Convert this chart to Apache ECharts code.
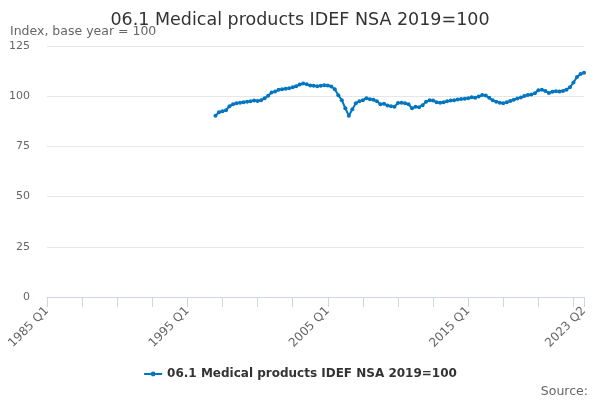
<!DOCTYPE html>
<html>
<head>
<meta charset="utf-8">
<script src="https://cdn.jsdelivr.net/npm/echarts@6/dist/echarts.min.js"></script>
<style>
html,body{margin:0;padding:0;background:#fff;}
#chart{width:600px;height:400px;}
</style>
</head>
<body>
<div id="chart"></div>
<script>
// Quarter categories 1985 Q1 .. 2023 Q2
var categories = [];
for (var y = 1985; y <= 2023; y++) {
  for (var q = 1; q <= 4; q++) {
    if (y === 2023 && q > 2) break;
    categories.push(y + ' Q' + q);
  }
}
// Values from 1997 Q1 to 2023 Q2 (earlier quarters have no data)
var seriesStart = '1997 Q1';
var seriesValues = [
  90.3, 92.0, 92.5, 93.0, 95.0, 96.0, 96.5, 96.8, 97.0, 97.2,
  97.5, 97.8, 97.6, 98.0, 99.0, 100.2, 101.8, 102.3, 103.2, 103.5,
  103.7, 104.0, 104.5, 105.0, 105.8, 106.3, 106.0, 105.3, 105.2, 105.0,
  105.2, 105.5, 105.3, 104.8, 103.5, 100.5, 98.0, 94.0, 90.3, 93.5,
  96.5, 97.5, 98.0, 99.0, 98.5, 98.2, 97.5, 96.0, 96.2, 95.4,
  95.0, 94.8, 96.6, 96.8, 96.5, 96.0, 94.0, 94.8, 94.5, 95.5,
  97.2, 98.0, 97.8, 97.0, 96.7, 97.0, 97.5, 97.8, 98.0, 98.3,
  98.6, 98.7, 99.0, 99.5, 99.2, 99.8, 100.6, 100.3, 99.2, 98.0,
  97.2, 96.8, 96.5, 97.0, 97.6, 98.2, 98.8, 99.3, 100.1, 100.6,
  100.8, 101.5, 103.0, 103.2, 102.6, 101.6, 102.2, 102.5, 102.4, 102.6,
  103.2, 104.5, 106.8, 109.5, 111.0, 111.7
];
var yTicks = [0, 25, 50, 75, 100, 125];
var seriesName = '06.1 Medical products IDEF NSA 2019=100';

var startIdx = categories.indexOf(seriesStart);
var data = categories.map(function (c, i) {
  var k = i - startIdx;
  return (k >= 0 && k < seriesValues.length) ? seriesValues[k] : null;
});
var lastIdx = categories.length - 1;

var chart = echarts.init(document.getElementById('chart'), null, {renderer: 'canvas'});
chart.setOption({
  animation: false,
  textStyle: {fontFamily: 'DejaVu Sans'},
  title: [{
    text: '06.1 Medical products IDEF NSA 2019=100',
    left: 'center', top: 6,
    textStyle: {fontSize: 17.5, fontWeight: 'normal', color: '#333333', fontFamily: 'DejaVu Sans'}
  }, {
    text: 'Index, base year = 100',
    left: 5, top: 20,
    textStyle: {fontSize: 12.5, fontWeight: 'normal', color: '#666666', fontFamily: 'DejaVu Sans'}
  }, {
    text: 'Source:',
    right: 7, top: 380,
    textStyle: {fontSize: 12.5, fontWeight: 'normal', color: '#666666', fontFamily: 'DejaVu Sans'}
  }],
  legend: {
    bottom: 15, left: 'center',
    itemWidth: 18, itemHeight: 6, itemGap: 8,
    textStyle: {fontSize: 12, fontWeight: 'bold', color: '#333333', fontFamily: 'DejaVu Sans'},
    data: [seriesName]
  },
  grid: {left: 47, right: 16, top: 46, bottom: 103, containLabel: false},
  xAxis: {
    type: 'category',
    data: categories,
    boundaryGap: false,
    axisLine: {lineStyle: {color: '#ccd6eb'}},
    axisTick: {
      length: 10,
      lineStyle: {color: '#ccd6eb'},
      interval: function (i) { return i % 10 === 0 || i === lastIdx; }
    },
    axisLabel: {
      rotate: 45,
      color: '#666666',
      fontSize: 12,
      margin: 12,
      showMaxLabel: true,
      hideOverlap: false,
      interval: function (i) { return i % 40 === 0 || i === lastIdx; }
    },
    splitLine: {show: false}
  },
  yAxis: {
    type: 'value',
    min: 0, max: 125, interval: 25,
    axisLine: {show: false},
    axisTick: {show: false},
    axisLabel: {color: '#666666', fontSize: 11, margin: 17,
      formatter: function (v) { return yTicks.indexOf(v) >= 0 ? String(v) : ''; }},
    splitLine: {lineStyle: {color: '#e6e6e6'}}
  },
  series: [{
    name: seriesName,
    type: 'line',
    data: data,
    connectNulls: false,
    color: '#0076c0',
    lineStyle: {width: 2, color: '#0076c0'},
    symbol: 'circle',
    symbolSize: 4,
    showAllSymbol: true,
    itemStyle: {color: '#0076c0'}
  }]
});
</script>
</body>
</html>
